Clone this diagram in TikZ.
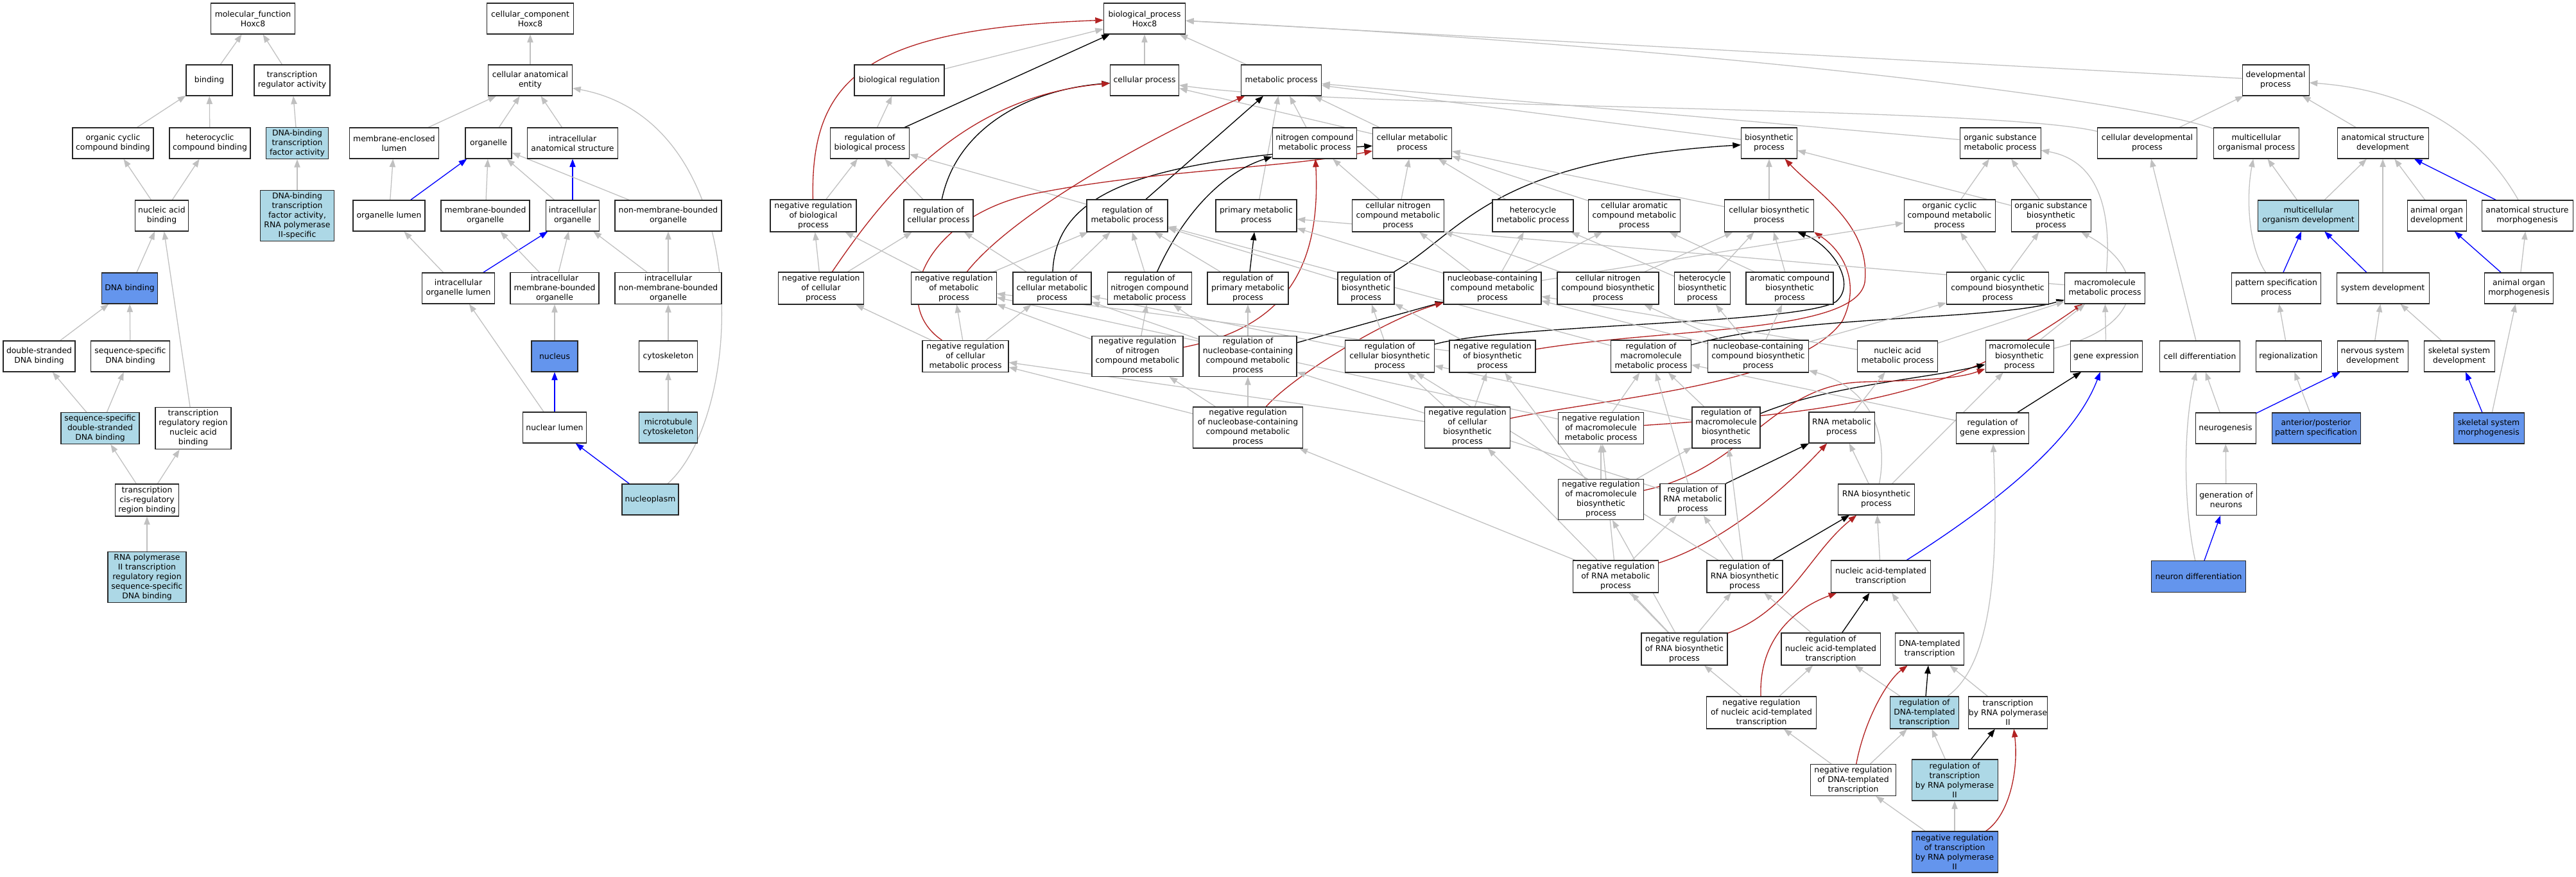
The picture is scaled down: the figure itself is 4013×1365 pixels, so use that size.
\documentclass[tikz,border=0pt]{standalone}
\usepackage{fontspec}
\setmainfont{DejaVu Sans}
\usetikzlibrary{arrows.meta,backgrounds}
\definecolor{lbl}{RGB}{173,216,230}
\definecolor{cbl}{RGB}{100,149,237}
\definecolor{egr}{RGB}{192,192,192}
\definecolor{frd}{RGB}{178,34,34}
\definecolor{ebl}{RGB}{0,0,255}
\tikzset{
 box/.style={draw=black!85, line width=0.8pt, fill=white, inner sep=0.5pt, align=center, font=\fontsize{9.3}{11.25}\selectfont},
 wb/.style={box},
 lbb/.style={box, fill=lbl},
 cbb/.style={box, fill=cbl},
 arr/.style={-{Triangle[length=9.5pt,width=7pt]}},
 isa/.style={arr, draw=egr, line width=0.95pt},
 po/.style={arr, draw=ebl, line width=1pt},
 rg/.style={arr, draw=black, line width=1pt},
 nr/.style={arr, draw=frd, line width=1pt},
}
\newcommand\gn[7]{\node[#6, minimum width=#4*0.75pt, minimum height=#5*0.75pt] (#1) at (#2,#3) {#7};}
\begin{document}
\begin{tikzpicture}[x=0.75pt,y=-0.75pt]
\useasboundingbox (0,0) rectangle (4013,1365);
% ---------- MF
\gn{mf}{394}{29}{131}{48}{wb}{molecular\_function\\Hoxc8}
\gn{bind}{326}{125}{72}{48}{wb}{binding}
\gn{tra}{455}{125}{118}{48}{wb}{transcription\\regulator activity}
\gn{occb}{176}{223}{126}{48}{wb}{organic cyclic\\compound binding}
\gn{hccb}{327}{223}{126}{48}{wb}{heterocyclic\\compound binding}
\gn{dbtf}{463}{223}{97}{49}{lbb}{DNA-binding\\transcription\\factor activity}
\gn{dbtf2}{463}{336}{115}{79}{lbb}{DNA-binding\\transcription\\factor activity,\\RNA polymerase\\II-specific}
\gn{nab}{252}{336}{83}{48}{wb}{nucleic acid\\binding}
\gn{dnab}{202}{449}{87}{48}{cbb}{DNA binding}
\gn{dsdb}{61}{555}{112}{48}{wb}{double-stranded\\DNA binding}
\gn{ssdb}{203}{555}{123}{48}{wb}{sequence-specific\\DNA binding}
\gn{ssdsdb}{156}{667}{122}{49}{lbb}{sequence-specific\\double-stranded\\DNA binding}
\gn{trrnab}{301}{667}{118}{65}{wb}{transcription\\regulatory region\\nucleic acid\\binding}
\gn{tcrrb}{229}{779}{99}{50}{wb}{transcription\\cis-regulatory\\region binding}
\gn{rp2b}{229}{899}{122}{79}{lbb}{RNA polymerase\\II transcription\\regulatory region\\sequence-specific\\DNA binding}
% ---------- CC
\gn{cc}{826}{29}{135}{48}{wb}{cellular\_component\\Hoxc8}
\gn{cae}{826}{125}{131}{48}{wb}{cellular anatomical\\entity}
\gn{mel}{614}{223}{139}{48}{wb}{membrane-enclosed\\lumen}
\gn{org}{761}{223}{72}{48}{wb}{organelle}
\gn{ias}{892}{223}{141}{48}{wb}{intracellular\\anatomical structure}
\gn{orgl}{606}{336}{112}{48}{wb}{organelle lumen}
\gn{mbo}{756}{336}{138}{48}{wb}{membrane-bounded\\organelle}
\gn{io}{892}{336}{83}{48}{wb}{intracellular\\organelle}
\gn{nmbo}{1041}{336}{166}{48}{wb}{non-membrane-bounded\\organelle}
\gn{iol}{714}{449}{113}{48}{wb}{intracellular\\organelle lumen}
\gn{imbo}{864}{449}{138}{49}{wb}{intracellular\\membrane-bounded\\organelle}
\gn{inmbo}{1041}{449}{166}{49}{wb}{intracellular\\non-membrane-bounded\\organelle}
\gn{nuc}{864}{555}{72}{48}{cbb}{nucleus}
\gn{cytsk}{1041}{555}{91}{48}{wb}{cytoskeleton}
\gn{nl}{864}{666}{99}{48}{wb}{nuclear lumen}
\gn{mtc}{1041}{666}{91}{48}{lbb}{microtubule\\cytoskeleton}
\gn{npl}{1013}{778}{88}{48}{lbb}{nucleoplasm}
% ---------- BP rows
\gn{bp}{1783}{29}{127}{48}{wb}{biological\_process\\Hoxc8}
\gn{breg}{1401}{125}{140}{48}{wb}{biological regulation}
\gn{cp}{1783}{125}{107}{48}{wb}{cellular process}
\gn{mp}{1996}{125}{125}{48}{wb}{metabolic process}
\gn{dp}{3545}{125}{104}{48}{wb}{developmental\\process}
\gn{rbp}{1355}{223}{123}{48}{wb}{regulation of\\biological process}
\gn{ncmp}{2048}{223}{131}{48}{wb}{nitrogen compound\\metabolic process}
\gn{cmp}{2200}{223}{123}{48}{wb}{cellular metabolic\\process}
\gn{bsp}{2756}{223}{87}{48}{wb}{biosynthetic\\process}
\gn{osmp}{3116}{223}{126}{48}{wb}{organic substance\\metabolic process}
\gn{cdp}{3345}{223}{155}{48}{wb}{cellular developmental\\process}
\gn{mop}{3515}{223}{133}{48}{wb}{multicellular\\organismal process}
\gn{asd}{3712}{223}{142}{48}{wb}{anatomical structure\\development}
\gn{nrbp}{1267}{336}{134}{50}{wb}{negative regulation\\of biological\\process}
\gn{rcp}{1462}{336}{108}{50}{wb}{regulation of\\cellular process}
\gn{rmp}{1756}{336}{126}{50}{wb}{regulation of\\metabolic process}
\gn{pmp}{1957}{336}{126}{50}{wb}{primary metabolic\\process}
\gn{cncmp}{2178}{336}{143}{50}{wb}{cellular nitrogen\\compound metabolic\\process}
\gn{hmp}{2388}{336}{126}{50}{wb}{heterocycle\\metabolic process}
\gn{camp}{2546}{336}{143}{50}{wb}{cellular aromatic\\compound metabolic\\process}
\gn{cbp}{2756}{336}{139}{50}{wb}{cellular biosynthetic\\process}
\gn{occmp}{3037}{336}{142}{50}{wb}{organic cyclic\\compound metabolic\\process}
\gn{osbp}{3195}{336}{124}{50}{wb}{organic substance\\biosynthetic\\process}
\gn{mod}{3596}{336}{157}{48}{lbb}{multicellular\\organism development}
\gn{aod}{3796}{336}{92}{48}{wb}{animal organ\\development}
\gn{asm}{3937}{336}{142}{48}{wb}{anatomical structure\\morphogenesis}
\gn{nrcp}{1279}{449}{133}{50}{wb}{negative regulation\\of cellular\\process}
\gn{nrmp}{1486}{449}{133}{50}{wb}{negative regulation\\of metabolic\\process}
\gn{rcmp}{1639}{449}{122}{50}{wb}{regulation of\\cellular metabolic\\process}
\gn{rncmp}{1791}{449}{131}{50}{wb}{regulation of\\nitrogen compound\\metabolic process}
\gn{rpmp}{1944}{449}{126}{50}{wb}{regulation of\\primary metabolic\\process}
\gn{rbsp}{2128}{449}{88}{50}{wb}{regulation of\\biosynthetic\\process}
\gn{nbcmp}{2325}{449}{152}{50}{wb}{nucleobase-containing\\compound metabolic\\process}
\gn{cncbp}{2505}{449}{158}{50}{wb}{cellular nitrogen\\compound biosynthetic\\process}
\gn{hbp}{2652}{449}{87}{50}{wb}{heterocycle\\biosynthetic\\process}
\gn{acbp}{2788}{449}{136}{50}{wb}{aromatic compound\\biosynthetic\\process}
\gn{occbp}{3112}{449}{159}{50}{wb}{organic cyclic\\compound biosynthetic\\process}
\gn{mmp}{3279}{449}{125}{48}{wb}{macromolecule\\metabolic process}
\gn{psp}{3546}{449}{139}{48}{wb}{pattern specification\\process}
\gn{sd}{3712}{449}{144}{48}{wb}{system development}
\gn{aom}{3924}{449}{107}{48}{wb}{animal organ\\morphogenesis}
\gn{nrcmp}{1504}{555}{134}{49}{wb}{negative regulation\\of cellular\\metabolic process}
\gn{nrncmp}{1772}{555}{142}{63}{wb}{negative regulation\\of nitrogen\\compound metabolic\\process}
\gn{rnbcmp}{1944}{555}{152}{63}{wb}{regulation of\\nucleobase-containing\\compound metabolic\\process}
\gn{rcbp}{2165}{555}{139}{50}{wb}{regulation of\\cellular biosynthetic\\process}
\gn{nrbsp}{2325}{555}{134}{50}{wb}{negative regulation\\of biosynthetic\\process}
\gn{rmmp}{2572}{555}{125}{50}{wb}{regulation of\\macromolecule\\metabolic process}
\gn{nbcbp}{2739}{555}{157}{50}{wb}{nucleobase-containing\\compound biosynthetic\\process}
\gn{namp}{2956}{555}{125}{48}{wb}{nucleic acid\\metabolic process}
\gn{mbp}{3146}{555}{106}{50}{wb}{macromolecule\\biosynthetic\\process}
\gn{ge}{3281}{555}{112}{48}{wb}{gene expression}
\gn{cdiff}{3427}{555}{125}{48}{wb}{cell differentiation}
\gn{reg}{3565}{555}{102}{48}{wb}{regionalization}
\gn{nsd}{3696}{555}{110}{48}{wb}{nervous system\\development}
\gn{ssd}{3831}{555}{110}{48}{wb}{skeletal system\\development}
\gn{nrnbcmp}{1944}{666}{171}{64}{wb}{negative regulation\\of nucleobase-containing\\compound metabolic\\process}
\gn{nrcbp}{2286}{666}{133}{64}{wb}{negative regulation\\of cellular\\biosynthetic\\process}
\gn{nrmmp}{2494}{667}{133}{49}{wb}{negative regulation\\of macromolecule\\metabolic process}
\gn{rmbp}{2689}{666}{106}{64}{wb}{regulation of\\macromolecule\\biosynthetic\\process}
\gn{rnamp}{2869}{666}{102}{48}{wb}{RNA metabolic\\process}
\gn{rge}{3104}{667}{113}{48}{wb}{regulation of\\gene expression}
\gn{ngen}{3467}{667}{94}{48}{wb}{neurogenesis}
\gn{apps}{3608}{667}{138}{48}{cbb}{anterior/posterior\\pattern specification}
\gn{ssm}{3877}{667}{110}{48}{cbb}{skeletal system\\morphogenesis}
\gn{nrmbp}{2494}{778}{133}{63}{wb}{negative regulation\\of macromolecule\\biosynthetic\\process}
\gn{rrnamp}{2637}{778}{102}{49}{wb}{regulation of\\RNA metabolic\\process}
\gn{rnabp}{2923}{778}{119}{48}{wb}{RNA biosynthetic\\process}
\gn{gon}{3468}{778}{94}{49}{wb}{generation of\\neurons}
\gn{nrrnamp}{2517}{898}{133}{50}{wb}{negative regulation\\of RNA metabolic\\process}
\gn{rrnabp}{2718}{898}{118}{50}{wb}{regulation of\\RNA biosynthetic\\process}
\gn{natt}{2930}{898}{155}{50}{wb}{nucleic acid-templated\\transcription}
\gn{nd}{3425}{898}{147}{49}{cbb}{neuron differentiation}
\gn{nrrnabp}{2624}{1011}{134}{50}{wb}{negative regulation\\of RNA biosynthetic\\process}
\gn{rnatt}{2852}{1011}{154}{50}{wb}{regulation of\\nucleic acid-templated\\transcription}
\gn{dtt}{3006}{1011}{107}{50}{wb}{DNA-templated\\transcription}
\gn{nrnatt}{2744}{1110}{171}{50}{wb}{negative regulation\\of nucleic acid-templated\\transcription}
\gn{rdtt}{2998}{1110}{107}{50}{lbb}{regulation of\\DNA-templated\\transcription}
\gn{trp2}{3128}{1110}{104}{50}{wb}{transcription\\by RNA polymerase\\II}
\gn{nrdtt}{2887}{1215}{133}{49}{wb}{negative regulation\\of DNA-templated\\transcription}
\gn{rtrp2}{3045}{1215}{134}{64}{lbb}{regulation of\\transcription\\by RNA polymerase\\II}
\gn{nrtrp2}{3045}{1327}{134}{64}{cbb}{negative regulation\\of transcription\\by RNA polymerase\\II}
\begin{pgfonlayer}{background}
\fill[white] (0,0) rectangle (4013,1365);
% MF edges
\draw[isa] (bind) -- (mf);
\draw[isa] (tra) -- (mf);
\draw[isa] (occb) -- (bind);
\draw[isa] (hccb) -- (bind);
\draw[isa] (dbtf) -- (tra);
\draw[isa] (dbtf2) -- (dbtf);
\draw[isa] (nab) -- (occb);
\draw[isa] (nab) -- (hccb);
\draw[isa] (dnab) -- (nab);
\draw[isa] (trrnab) -- (nab);
\draw[isa] (dsdb) -- (dnab);
\draw[isa] (ssdb) -- (dnab);
\draw[isa] (ssdsdb) -- (dsdb);
\draw[isa] (ssdsdb) -- (ssdb);
\draw[isa] (tcrrb) -- (ssdsdb);
\draw[isa] (tcrrb) -- (trrnab);
\draw[isa] (rp2b) -- (tcrrb);
% CC edges
\draw[isa] (cae) -- (cc);
\draw[isa] (mel) -- (cae);
\draw[isa] (org) -- (cae);
\draw[isa] (ias) -- (cae);
\draw[isa] (npl) .. controls (1165,640) and (1175,190) .. (cae);
\draw[isa] (orgl) -- (mel);
\draw[po] (orgl) -- (org);
\draw[isa] (mbo) -- (org);
\draw[isa] (io) -- (org);
\draw[po] (io) -- (ias);
\draw[isa] (nmbo) -- (org);
\draw[isa] (iol) -- (orgl);
\draw[po] (iol) -- (io);
\draw[isa] (imbo) -- (mbo);
\draw[isa] (imbo) -- (io);
\draw[isa] (inmbo) -- (io);
\draw[isa] (inmbo) -- (nmbo);
\draw[isa] (nuc) -- (imbo);
\draw[isa] (cytsk) -- (inmbo);
\draw[isa] (nl) -- (iol);
\draw[po] (nl) -- (nuc);
\draw[isa] (mtc) -- (cytsk);
\draw[po] (npl) -- (nl);
% BP top
\draw[isa] (breg) -- (bp);
\draw[isa] (cp) -- (bp);
\draw[isa] (mp) -- (bp);
\draw[isa] (dp) -- (bp);
\draw[isa] (mop) .. controls (3300,150) and (2600,70) .. (bp);
\draw[isa] (cdp) .. controls (3100,165) and (2100,170) .. (cp);
\draw[isa] (cmp) -- (cp);
\draw[isa] (ncmp) -- (mp);
\draw[isa] (cmp) -- (mp);
\draw[isa] (pmp) -- (mp);
\draw[isa] (bsp) -- (mp);
\draw[isa] (osmp) -- (mp);
\draw[rg] (rbp) -- (bp);
\draw[isa] (rbp) -- (breg);
\draw[nr] (nrbp) .. controls (1262,120) and (1350,45) .. (bp);
\draw[isa] (nrbp) -- (rbp);
\draw[isa] (rcp) -- (rbp);
\draw[rg] (rcp) .. controls (1490,200) and (1600,140) .. (cp);
\draw[isa] (nrcp) -- (nrbp);
\draw[isa] (nrcp) -- (rcp);
\draw[nr] (nrcp) .. controls (1380,300) and (1500,150) .. (cp);
\draw[isa] (rmp) -- (rbp);
\draw[rg] (rmp) -- (mp);
\draw[isa] (nrmp) -- (nrbp);
\draw[isa] (nrmp) -- (rmp);
\draw[nr] (nrmp) .. controls (1580,330) and (1800,210) .. (mp);
\draw[isa] (rcmp) -- (rcp);
\draw[isa] (rcmp) -- (rmp);
\draw[rg] (rcmp) .. controls (1645,290) and (1800,250) .. (cmp);
\draw[isa] (nrcmp) -- (nrcp);
\draw[isa] (nrcmp) -- (nrmp);
\draw[isa] (nrcmp) -- (rcmp);
\draw[nr] (nrcmp) .. controls (1380,470) and (1450,330) .. (1620,300) .. controls (1800,265) and (2000,262) .. (cmp);
\draw[isa] (rncmp) -- (rmp);
\draw[rg] (rncmp) .. controls (1840,340) and (1900,270) .. (ncmp);
\draw[isa] (nrncmp) -- (nrmp);
\draw[isa] (nrncmp) -- (rncmp);
\draw[nr] (nrncmp) .. controls (2000,510) and (2058,420) .. (ncmp);
\draw[isa] (rpmp) -- (rmp);
\draw[rg] (rpmp) -- (pmp);
\draw[isa] (rnbcmp) -- (rcmp);
\draw[isa] (rnbcmp) -- (rncmp);
\draw[isa] (rnbcmp) -- (rpmp);
\draw[rg] (rnbcmp) -- (nbcmp);
\draw[isa] (nrnbcmp) -- (nrcmp);
\draw[isa] (nrnbcmp) -- (nrncmp);
\draw[isa] (nrnbcmp) -- (rnbcmp);
\draw[nr] (nrnbcmp) .. controls (2010,590) and (2150,500) .. (nbcmp);
\draw[isa] (rbsp) -- (rmp);
\draw[rg] (rbsp) .. controls (2280,360) and (2320,250) .. (bsp);
\draw[isa] (rcbp) -- (rcmp);
\draw[isa] (rcbp) -- (rbsp);
\draw[rg] (rcbp) .. controls (2350,505) and (2800,505) .. (2860,470) .. controls (2895,440) and (2850,380) .. (cbp.-30);
\draw[isa] (nrbsp) -- (nrmp);
\draw[isa] (nrbsp) -- (rbsp);
\draw[nr] (nrbsp) .. controls (2600,510) and (2890,520) .. (2905,440) .. controls (2915,350) and (2830,300) .. (bsp.-45);
\draw[isa] (nrcbp) -- (nrcmp);
\draw[isa] (nrcbp) -- (nrbsp);
\draw[isa] (nrcbp) -- (rcbp);
\draw[nr] (nrcbp) .. controls (2500,620) and (2800,600) .. (2870,500) .. controls (2900,440) and (2870,390) .. (cbp.-20);
\draw[isa] (rmmp) -- (rmp);
\draw[rg] (rmmp) .. controls (2800,490) and (3100,500) .. (mmp);
\draw[isa] (nrmmp) -- (nrmp);
\draw[isa] (nrmmp) -- (rmmp);
\draw[nr] (nrmmp) .. controls (2900,640) and (3050,610) .. (mmp);
\draw[isa] (nbcmp) -- (cncmp);
\draw[isa] (nbcmp) -- (hmp);
\draw[isa] (nbcmp) -- (camp);
\draw[isa] (nbcmp) -- (occmp);
\draw[isa] (nbcmp) -- (pmp);
\draw[isa] (cncmp) -- (ncmp);
\draw[isa] (cncmp) -- (cmp);
\draw[isa] (hmp) -- (cmp);
\draw[isa] (camp) -- (cmp);
\draw[isa] (cbp) -- (bsp);
\draw[isa] (cbp) -- (cmp);
\draw[isa] (cncbp) -- (cncmp);
\draw[isa] (cncbp) -- (cbp);
\draw[isa] (hbp) -- (hmp);
\draw[isa] (hbp) -- (cbp);
\draw[isa] (acbp) -- (camp);
\draw[isa] (acbp) -- (cbp);
\draw[isa] (nbcbp) -- (nbcmp);
\draw[isa] (nbcbp) -- (cncbp);
\draw[isa] (nbcbp) -- (hbp);
\draw[isa] (nbcbp) -- (acbp);
\draw[isa] (nbcbp) -- (occbp);
\draw[isa] (namp) -- (nbcmp);
\draw[isa] (namp) -- (mmp);
\draw[isa] (mbp) -- (mmp);
\draw[isa] (mbp) .. controls (3340,510) and (3350,420) .. (osbp);
\draw[isa] (ge) -- (mmp);
\draw[isa] (mmp) .. controls (3290,330) and (3270,250) .. (osmp);
\draw[isa] (mmp) -- (pmp);
\draw[isa] (occmp) -- (osmp);
\draw[isa] (osbp) -- (osmp);
\draw[isa] (osbp) -- (bsp);
\draw[isa] (occbp) -- (occmp);
\draw[isa] (occbp) -- (osbp);
\draw[isa] (rmbp) -- (rmmp);
\draw[isa] (rmbp) -- (rcbp);
\draw[rg] (rmbp) .. controls (2850,600) and (3000,590) .. (mbp);
\draw[isa] (nrmbp) -- (nrmmp);
\draw[isa] (nrmbp) -- (rmbp);
\draw[isa] (nrmbp) -- (nrbsp);
\draw[nr] (nrmbp) .. controls (2720,730) and (2760,600) .. (2900,595) .. controls (3000,592) and (3050,590) .. (mbp);
\draw[isa] (rge) -- (rmmp);
\draw[rg] (rge) -- (ge);
\draw[isa] (rnamp) -- (namp);
\draw[isa] (rnabp) -- (rnamp);
\draw[isa] (rnabp) .. controls (2945,660) and (2900,600) .. (nbcbp);
\draw[isa] (rnabp) -- (mbp);
\draw[isa] (natt) -- (rnabp);
\draw[po] (natt) .. controls (3100,790) and (3230,690) .. (ge);
\draw[isa] (dtt) -- (natt);
\draw[isa] (trp2) -- (dtt);
\draw[isa] (rrnamp) -- (rnbcmp);
\draw[isa] (rrnamp) -- (rmmp);
\draw[rg] (rrnamp) -- (rnamp);
\draw[isa] (nrrnamp) -- (nrnbcmp);
\draw[isa] (nrrnamp) -- (nrmmp);
\draw[isa] (nrrnamp) -- (rrnamp);
\draw[nr] (nrrnamp) .. controls (2700,840) and (2800,740) .. (rnamp);
\draw[isa] (rrnabp) -- (rrnamp);
\draw[isa] (rrnabp) -- (rmbp);
\draw[isa] (rrnabp) -- (rcbp);
\draw[rg] (rrnabp) -- (rnabp);
\draw[isa] (nrrnabp) -- (nrrnamp);
\draw[isa] (nrrnabp) -- (rrnabp);
\draw[isa] (nrrnabp) -- (nrmbp);
\draw[isa] (nrrnabp) -- (nrcbp);
\draw[nr] (nrrnabp) .. controls (2790,950) and (2820,860) .. (rnabp);
\draw[isa] (rnatt) -- (rrnabp);
\draw[rg] (rnatt) -- (natt);
\draw[isa] (nrnatt) -- (nrrnabp);
\draw[isa] (nrnatt) -- (rnatt);
\draw[nr] (nrnatt) .. controls (2740,1000) and (2790,950) .. (natt);
\draw[isa] (rdtt) -- (rnatt);
\draw[rg] (rdtt) -- (dtt);
\draw[isa] (rdtt) .. controls (3110,1030) and (3112,850) .. (rge);
\draw[isa] (nrdtt) -- (nrnatt);
\draw[isa] (nrdtt) -- (rdtt);
\draw[nr] (nrdtt) .. controls (2905,1120) and (2940,1060) .. (dtt);
\draw[isa] (rtrp2) -- (rdtt);
\draw[rg] (rtrp2) -- (trp2);
\draw[isa] (nrtrp2) -- (nrdtt);
\draw[isa] (nrtrp2) -- (rtrp2);
\draw[nr] (nrtrp2) .. controls (3130,1270) and (3145,1200) .. (trp2.-70);
% development
\draw[isa] (cdp) -- (dp);
\draw[isa] (asd) -- (dp);
\draw[isa] (mod) -- (mop);
\draw[isa] (mod) -- (asd);
\draw[isa] (aod) -- (asd);
\draw[po] (asm) -- (asd);
\draw[isa] (asm) .. controls (3860,200) and (3750,140) .. (dp);
\draw[isa] (psp) .. controls (3500,380) and (3500,300) .. (mop);
\draw[po] (psp) -- (mod);
\draw[isa] (sd) -- (asd);
\draw[po] (sd) -- (mod);
\draw[po] (aom) -- (aod);
\draw[isa] (aom) -- (asm);
\draw[isa] (cdiff) -- (cdp);
\draw[isa] (reg) -- (psp);
\draw[isa] (nsd) -- (sd);
\draw[isa] (ssd) -- (sd);
\draw[po] (ngen) -- (nsd);
\draw[isa] (ngen) -- (cdiff);
\draw[isa] (apps) -- (reg);
\draw[po] (ssm) -- (ssd);
\draw[isa] (ssm) -- (aom);
\draw[isa] (gon) -- (ngen);
\draw[po] (nd) -- (gon);
\draw[isa] (nd) .. controls (3400,780) and (3402,660) .. (cdiff);
\end{pgfonlayer}
\end{tikzpicture}
\end{document}
